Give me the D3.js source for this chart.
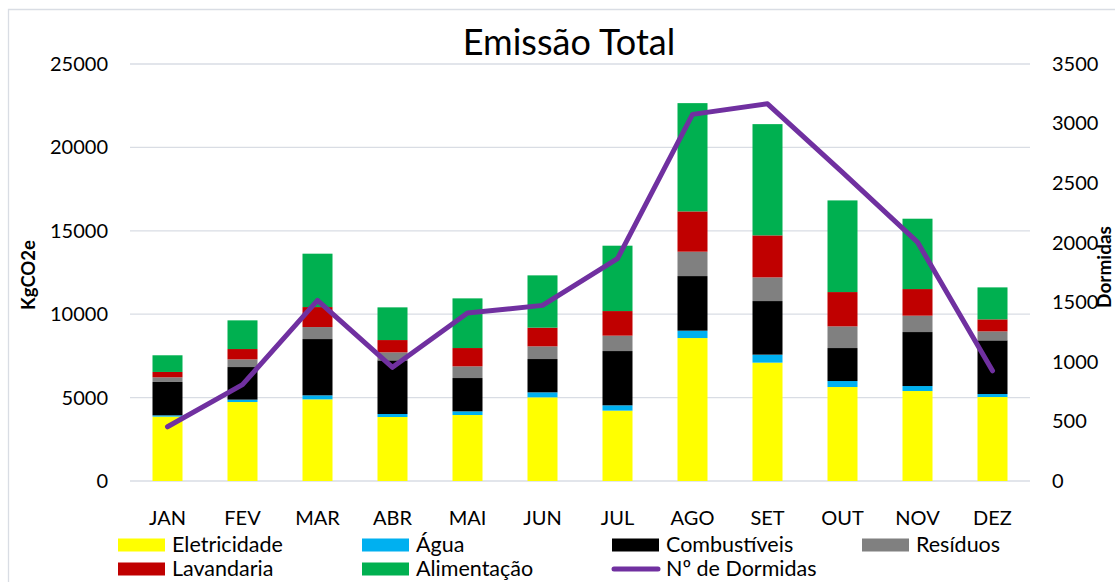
<!DOCTYPE html>
<html>
<head>
<meta charset="utf-8">
<script src="https://cdn.jsdelivr.net/npm/d3@7"></script>
<style>
  html, body { margin: 0; padding: 0; background: #fff; }
  svg { display: block; font-family: Lato, "Open Sans", sans-serif; }
</style>
</head>
<body>
<svg id="chart" width="1115" height="582"></svg>
<script>
const months = ["JAN","FEV","MAR","ABR","MAI","JUN","JUL","AGO","SET","OUT","NOV","DEZ"];
const eletricidade = [3860,4734,4896,3836,3956,5016,4219,8570,7096,5634,5394,5034];
const agua         = [77,144,240,180,221,300,318,443,479,359,299,180];
const combustiveis = [2000,1954,3374,3217,1996,1996,3254,3273,3213,1978,3237,3218];
const residuos     = [280,461,719,480,701,761,923,1462,1420,1300,982,539];
const lavandaria   = [320,618,1199,737,1097,1120,1474,2415,2517,2056,1595,720];
const alimentacao  = [1000,1720,3200,1960,2978,3135,3919,6491,6670,5495,4218,1917];
const dormidas     = [455,809,1516,954,1410,1474,1866,3077,3166,2590,2005,925];

const seriesNames = ["Eletricidade","Água","Combustíveis","Resíduos","Lavandaria","Alimentação"];
const seriesValues = [eletricidade, agua, combustiveis, residuos, lavandaria, alimentacao];
const seriesColors = ["#FFFF00","#00B0F0","#000000","#808080","#C00000","#00B050"];
const lineName = "Nº de Dormidas";
const lineColor = "#7030A0";
const leftTicks = [0,5000,10000,15000,20000,25000];
const rightTicks = [0,500,1000,1500,2000,2500,3000,3500];

const svg = d3.select("#chart");
const plot = {left: 130, right: 1030, top: 64, bottom: 481};

// chart border
svg.append("path")
  .attr("d", `M8.5,600 L8.5,9.5 L1120,9.5`)
  .attr("fill","none").attr("stroke","#d9dde4").attr("stroke-width",1.3);

const x = d3.scaleBand().domain(months).range([plot.left, plot.right]).paddingInner(0).paddingOuter(0);
const y = d3.scaleLinear().domain([0,25000]).range([plot.bottom, plot.top]);
const y2 = d3.scaleLinear().domain([0,3500]).range([plot.bottom, plot.top]);
const barW = x.bandwidth()*0.4;

// gridlines
svg.append("g").selectAll("line").data(leftTicks).join("line")
  .attr("x1", plot.left).attr("x2", plot.right)
  .attr("y1", d => y(d)).attr("y2", d => y(d))
  .attr("stroke", "#d9dde4").attr("stroke-width", 1.3);

// stacked data
const table = months.map((m,i) => {
  const o = {month: m};
  seriesNames.forEach((s,j) => o[s] = seriesValues[j][i]);
  return o;
});
const stack = d3.stack().keys(seriesNames)(table);

svg.append("g").selectAll("g").data(stack).join("g")
  .attr("fill", (d,i) => seriesColors[i])
  .selectAll("rect").data(d => d).join("rect")
  .attr("x", d => x(d.data.month) + (x.bandwidth()-barW)/2)
  .attr("width", barW)
  .attr("y", d => y(d[1]))
  .attr("height", d => y(d[0]) - y(d[1]));

// line
const line = d3.line()
  .x((d,i) => x(months[i]) + x.bandwidth()/2)
  .y(d => y2(d));
svg.append("path").datum(dormidas)
  .attr("d", line)
  .attr("fill","none").attr("stroke", lineColor).attr("stroke-width", 5)
  .attr("stroke-linejoin","round").attr("stroke-linecap","round");

// axes
const axL = svg.append("g").attr("transform", `translate(${plot.left - 22},0)`)
  .call(d3.axisLeft(y).tickValues(leftTicks).tickSize(0).tickPadding(0).tickFormat(d3.format("d")));
const axR = svg.append("g").attr("transform", `translate(${plot.right + 22},0)`)
  .call(d3.axisRight(y2).tickValues(rightTicks).tickSize(0).tickPadding(0).tickFormat(d3.format("d")));
const axB = svg.append("g").attr("transform", `translate(0,${plot.bottom + 30})`)
  .call(d3.axisBottom(x).tickSize(0).tickPadding(0));
[axL, axR, axB].forEach(a => {
  a.select(".domain").remove();
  a.selectAll("text").attr("font-size", 20).attr("fill", "#000").attr("font-family", "Lato, sans-serif");
});

// titles
svg.append("text").attr("x", 569).attr("y", 55).attr("text-anchor","middle")
  .attr("font-size", 36).attr("fill","#000").text("Emissão Total");
svg.append("text").attr("transform", "translate(35,275) rotate(-90)")
  .attr("text-anchor","middle").attr("font-size", 18.5).attr("font-weight","bold").attr("fill","#000")
  .text("KgCO2e");
svg.append("text").attr("transform", "translate(1111,267) rotate(-90)")
  .attr("text-anchor","middle").attr("font-size", 19).attr("font-weight","bold").attr("fill","#000")
  .text("Dormidas");

// legend
const legendItems = seriesNames.map((n,i) => ({name:n, color:seriesColors[i], type:"rect"}))
  .concat([{name: lineName, color: lineColor, type:"line"}]);
const colX = [118, 362, 612, 862];
const rowY = [545, 569];
const lg = svg.append("g").selectAll("g").data(legendItems).join("g")
  .attr("transform", (d,i) => `translate(${colX[i%4]},${rowY[Math.floor(i/4)]})`);
lg.filter(d => d.type === "rect").append("rect")
  .attr("x", 0).attr("y", -6.5).attr("width", 47).attr("height", 13).attr("fill", d => d.color);
lg.filter(d => d.type === "line").append("line")
  .attr("x1", 2).attr("x2", 46).attr("y1", 0).attr("y2", 0)
  .attr("stroke", d => d.color).attr("stroke-width", 5).attr("stroke-linecap","round");
lg.append("text").attr("x", 54).attr("y", 0).attr("dy","0.33em")
  .attr("font-size", 21.5).attr("fill","#000").text(d => d.name);
</script>
</body>
</html>
